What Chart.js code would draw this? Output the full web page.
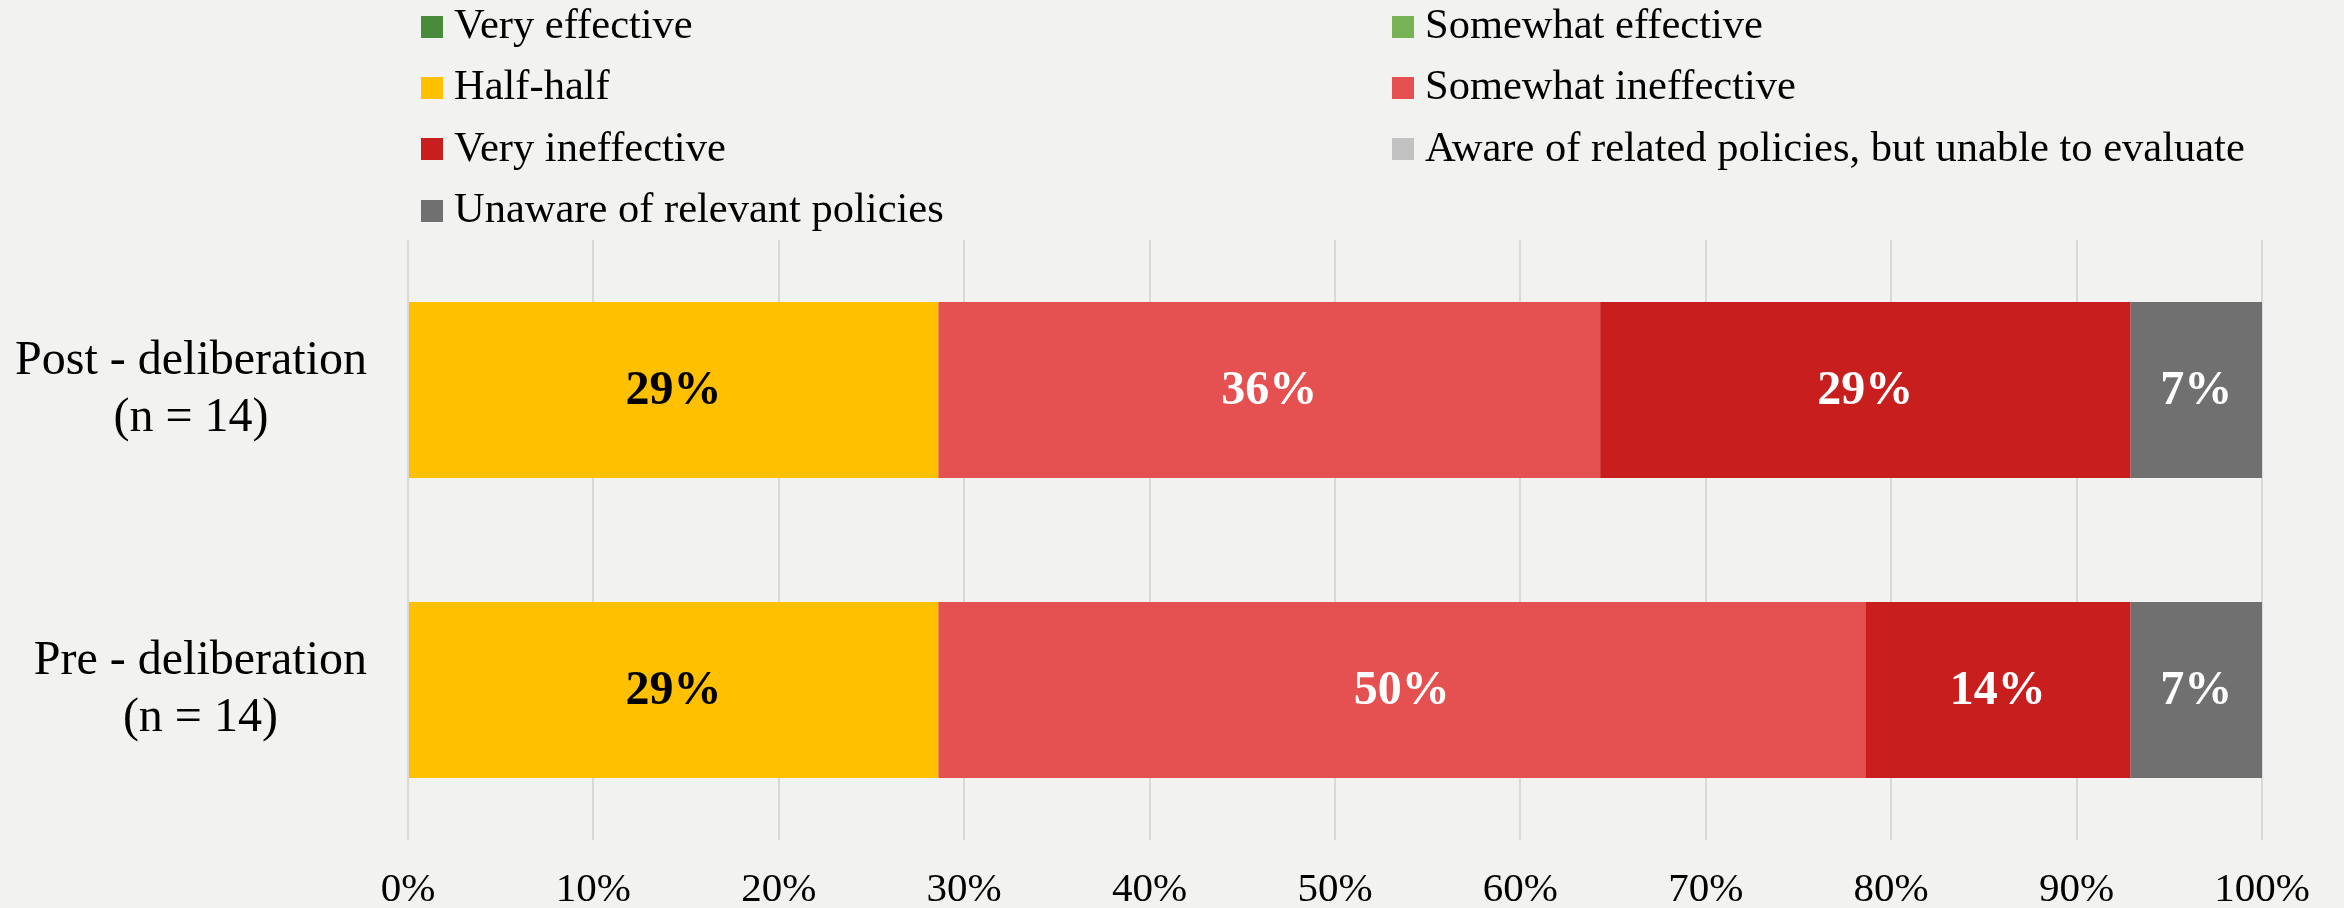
<!DOCTYPE html>
<html>
<head>
<meta charset="utf-8">
<script src="https://cdn.jsdelivr.net/npm/chart.js@4/dist/chart.umd.min.js"></script>
<style>
  html, body { margin: 0; padding: 0; background: #f2f3f1; }
  #wrap { position: relative; width: 2344px; height: 908px; }
  #chart { position: absolute; left: 0; top: 0; }
  #legend {
    position: absolute; left: 421px; top: -7px;
    display: grid; grid-template-columns: 971px auto; grid-auto-rows: 61.3px;
    font-family: "Liberation Serif", "Times New Roman", serif; font-size: 42.5px; color: #000;
  }
  #legend .item { display: flex; align-items: center; white-space: nowrap; }
  #legend .box { width: 22px; height: 22px; margin-right: 11px; transform: translateY(3px); }
</style>
</head>
<body>
<div id="wrap">
  <canvas id="chart" width="2344" height="908"></canvas>
  <div id="legend"></div>
</div>
<script>
// ─── Data ──────────────────────────────────────────────────────────────────────
const categories = [['Post - deliberation', '(n = 14)'], ['Pre - deliberation', '(n = 14)']];

const seriesNames = [
  'Very effective',
  'Somewhat effective',
  'Half-half',
  'Somewhat ineffective',
  'Very ineffective',
  'Aware of related policies, but unable to evaluate',
  'Unaware of relevant policies'
];

// percentages, [post, pre]
const veryEffective       = [0, 0];
const somewhatEffective   = [0, 0];
const halfHalf            = [28.6, 28.6];
const somewhatIneffective = [35.7, 50.0];
const veryIneffective     = [28.6, 14.3];
const awareUnable         = [0, 0];
const unaware             = [7.1, 7.1];

const xTicks = [0, 10, 20, 30, 40, 50, 60, 70, 80, 90, 100];

// ─── Styles ────────────────────────────────────────────────────────────────────
const colors      = ['#4a8b3b', '#77b254', '#ffc000', '#e55050', '#c81e1e', '#c2c2c2', '#707070'];
const labelColors = ['#fff', '#000', '#000', '#fff', '#fff', '#000', '#fff'];
const serif = '"Liberation Serif", "Times New Roman", serif';

const seriesValues = [veryEffective, somewhatEffective, halfHalf, somewhatIneffective, veryIneffective, awareUnable, unaware];

const datasets = seriesNames.map((name, i) => ({
  label: name,
  data: seriesValues[i],
  backgroundColor: colors[i],
  labelColor: labelColors[i],
  borderWidth: 0,
  categoryPercentage: 1,
  barPercentage: 0.587
}));

// ─── Value labels inside the bars ──────────────────────────────────────────────
const barLabels = {
  id: 'barLabels',
  afterDatasetsDraw(chart) {
    const ctx = chart.ctx;
    ctx.save();
    ctx.font = `bold 48px ${serif}`;
    ctx.textAlign = 'center';
    ctx.textBaseline = 'middle';
    chart.data.datasets.forEach((ds, i) => {
      chart.getDatasetMeta(i).data.forEach((bar, j) => {
        const v = ds.data[j];
        if (!v) return;
        const p = bar.getCenterPoint();
        ctx.fillStyle = ds.labelColor;
        ctx.fillText(Math.round(v) + '%', p.x, p.y + 2);
      });
    });
    ctx.restore();
  }
};

// ─── Category labels: block right-aligned, lines centred inside the block ──────
const categoryLabels = {
  id: 'categoryLabels',
  afterDraw(chart) {
    const ctx = chart.ctx;
    const yScale = chart.scales.y;
    const lineH = 57.6;
    ctx.save();
    ctx.font = `48px ${serif}`;
    ctx.fillStyle = '#000';
    ctx.textAlign = 'center';
    ctx.textBaseline = 'middle';
    chart.data.labels.forEach((lines, i) => {
      const w = Math.max(...lines.map(t => ctx.measureText(t).width));
      const cx = chart.chartArea.left - 41 - w / 2;
      const cy = yScale.getPixelForTick(i);
      lines.forEach((t, k) => {
        ctx.fillText(t, cx, cy + (k - (lines.length - 1) / 2) * lineH);
      });
    });
    ctx.restore();
  }
};

const chart = new Chart(document.getElementById('chart'), {
  type: 'bar',
  data: { labels: categories, datasets },
  options: {
    indexAxis: 'y',
    responsive: false,
    animation: false,
    layout: { padding: { top: 240, right: 82, left: 0, bottom: 0 } },
    plugins: { legend: { display: false }, tooltip: { enabled: false } },
    scales: {
      x: {
        stacked: true,
        min: 0,
        max: 100,
        afterBuildTicks: s => { s.ticks = xTicks.map(v => ({ value: v })); },
        afterFit: s => { s.height = 68; },
        grid: { color: '#d9d9d9', lineWidth: 2, drawTicks: false },
        border: { display: false },
        ticks: {
          padding: 26,
          color: '#000',
          font: { family: serif, size: 41 },
          callback: v => v + '%'
        }
      },
      y: {
        stacked: true,
        afterFit: s => { s.width = 408; s.paddingTop = 0; s.paddingBottom = 0; },
        grid: { display: false, drawTicks: false },
        border: { display: false },
        ticks: { display: false }
      }
    }
  },
  plugins: [barLabels, categoryLabels]
});

// ─── HTML legend in two fixed columns ──────────────────────────────────────────
const legend = document.getElementById('legend');
chart.data.datasets.forEach(ds => {
  const item = document.createElement('div');
  item.className = 'item';
  item.innerHTML = `<span class="box" style="background:${ds.backgroundColor}"></span><span>${ds.label}</span>`;
  legend.appendChild(item);
});
</script>
</body>
</html>
